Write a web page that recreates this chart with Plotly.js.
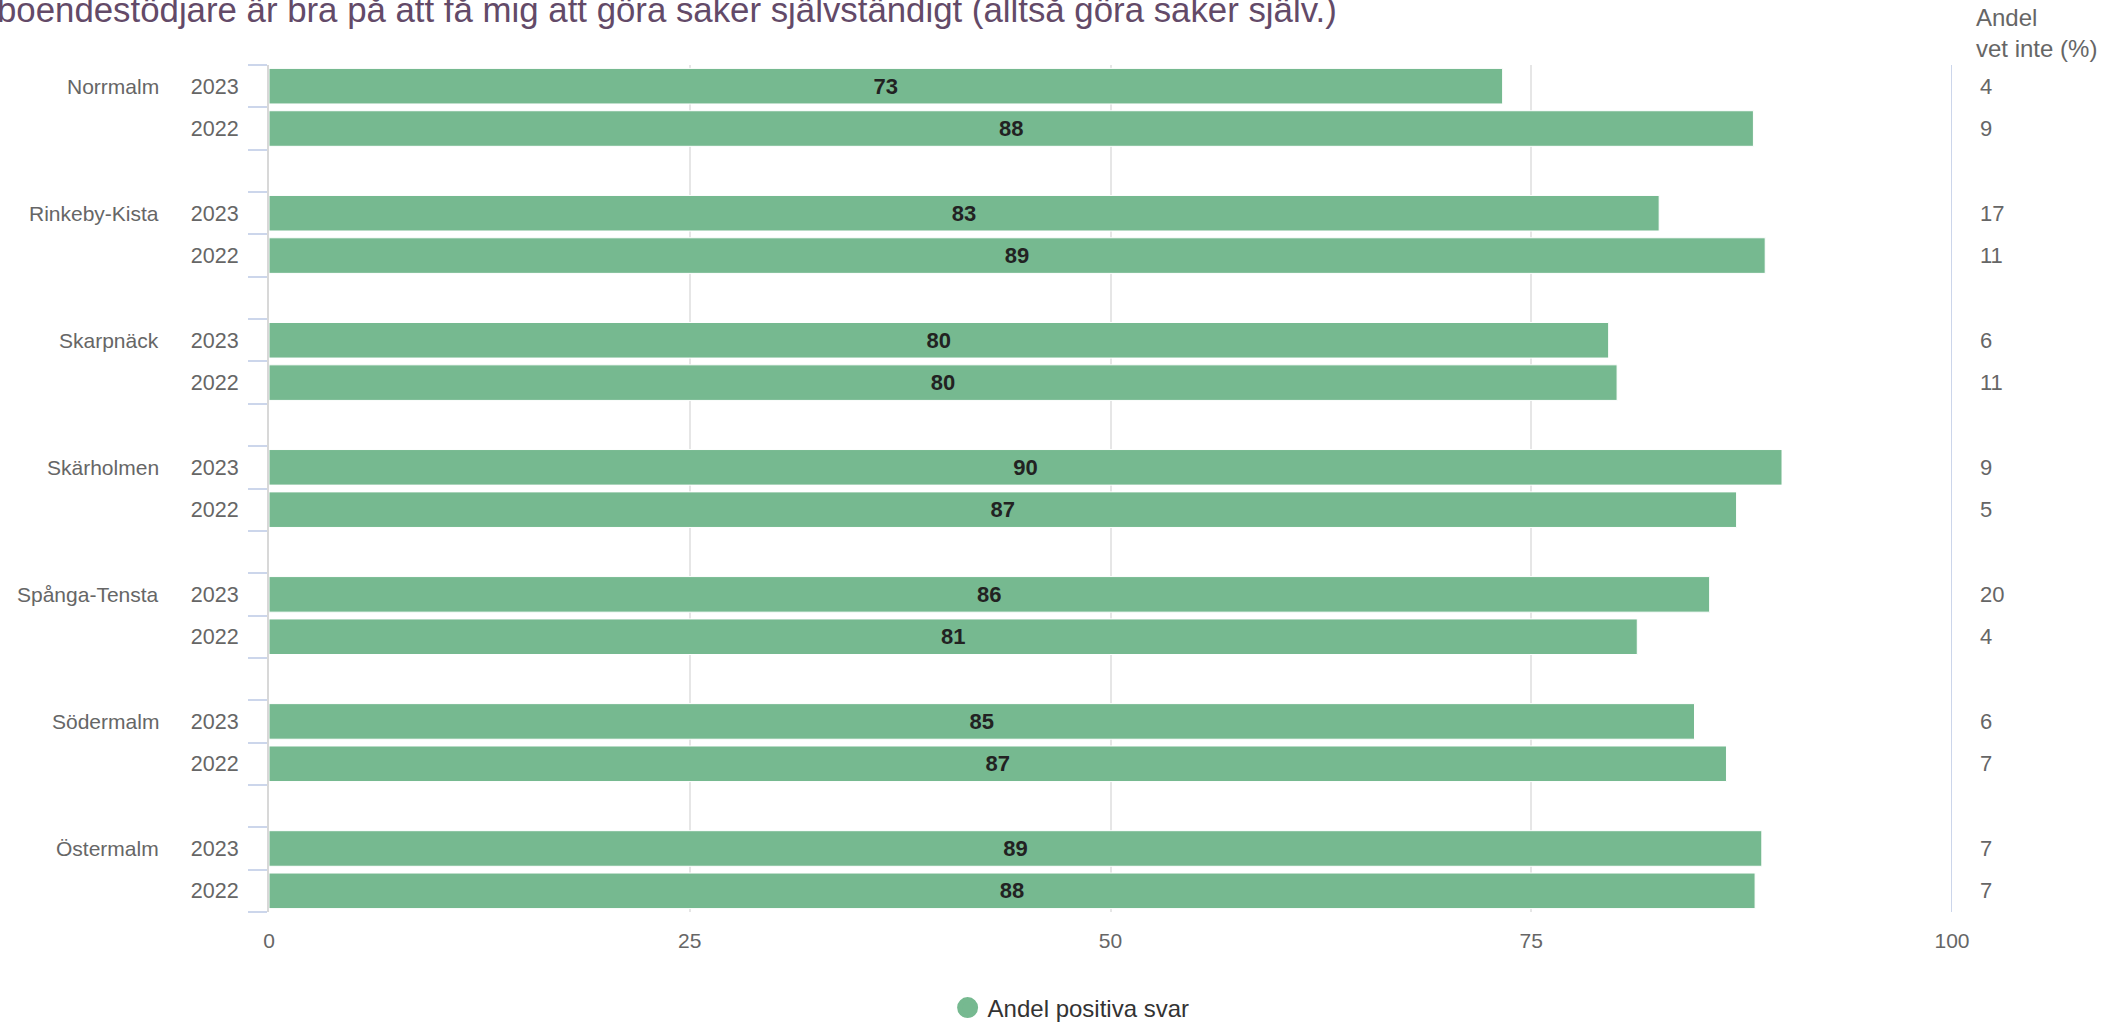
<!DOCTYPE html>
<html>
<head>
<meta charset="utf-8">
<script src="https://cdn.plot.ly/plotly-3.0.1.min.js"></script>
<style>html,body{margin:0;padding:0;background:#fff;}#chart{width:2121px;height:1023px;}</style>
</head>
<body>
<div id="chart"></div>
<script>
// ---- data ----
const districts = ['Norrmalm','Rinkeby-Kista','Skarpnäck','Skärholmen','Spånga-Tensta','Södermalm','Östermalm'];
const years = ['2023','2022'];
const positive2023 = [73.3, 82.6, 79.6, 89.9, 85.6, 84.7, 88.7];
const positive2022 = [88.2, 88.9, 80.1, 87.2, 81.3, 86.6, 88.3];
const vetInte2023 = [4, 17, 6, 9, 20, 6, 7];
const vetInte2022 = [9, 11, 11, 5, 4, 7, 7];
const xTicks = [0, 25, 50, 75, 100];
const seriesName = 'Andel positiva svar';
const sideHeader = 'Andel<br>vet inte (%)';
const titleText = 'boendestödjare är bra på att få mig att göra saker självständigt (alltså göra saker själv.)';

// ---- build rows: each district -> 2023 row, 2022 row, blank row ----
const rowY = [], rowX = [], rowYear = [], rowVet = [];
districts.forEach((d, g) => {
  const vals = [positive2023[g], positive2022[g]];
  const vets = [vetInte2023[g], vetInte2022[g]];
  years.forEach((yr, k) => {
    rowY.push(3 * g + k);
    rowX.push(vals[k]);
    rowYear.push(yr);
    rowVet.push(vets[k]);
  });
});
const nRows = districts.length * 3 - 1;

const font = 'Liberation Sans, Arial, Helvetica, sans-serif';
const green = '#76b990';

const traces = [
  {
    type: 'bar', orientation: 'h',
    x: rowX, y: rowY, width: 0.84,
    marker: {color: green, line: {color: '#ffffff', width: 1}},
    texttemplate: '%{x:.0f}', textposition: 'inside', insidetextanchor: 'middle',
    textfont: {family: font, size: 22, color: '#222222', weight: 'bold'},
    constraintext: 'none',
    showlegend: false, hoverinfo: 'x+y', name: seriesName
  },
  {
    type: 'scatter', mode: 'markers', x: [null], y: [null],
    name: seriesName,
    marker: {symbol: 'circle', size: 16, color: green, line: {color: green, width: 5}},
    showlegend: true, hoverinfo: 'skip'
  }
];

const L = 269, R = 169, T = 65, B = 111;
const plotW = 2121 - L - R, plotH = 1023 - T - B;
const px2x = p => (p - L) / plotW;
const py2y = p => (1023 - B - p) / plotH;

const annotations = [];
// title (cut off at the left/top like the reference)
annotations.push({
  xref: 'paper', yref: 'paper', x: px2x(-5), y: py2y(9), xanchor: 'left', yanchor: 'middle',
  text: titleText, showarrow: false,
  font: {family: font, size: 34.8, color: '#634a68'}
});
// district names
districts.forEach((d, g) => {
  annotations.push({
    xref: 'paper', yref: 'y', x: px2x(161), y: 3 * g, xanchor: 'right', yanchor: 'middle',
    text: d, showarrow: false, font: {family: font, size: 21, color: '#666666'}
  });
});
// "vet inte" values
rowY.forEach((y, i) => {
  annotations.push({
    xref: 'paper', yref: 'y', x: px2x(1978), y: y, xanchor: 'left', yanchor: 'middle',
    text: String(rowVet[i]), showarrow: false, font: {family: font, size: 22, color: '#666666'}
  });
});
annotations.push({
  xref: 'paper', yref: 'paper', x: px2x(1974), y: py2y(33), xanchor: 'left', yanchor: 'middle', align: 'left',
  text: sideHeader, showarrow: false, font: {family: font, size: 24, color: '#666666'}
});

const layout = {
  width: 2121, height: 1023,
  margin: {l: L, r: R, t: T, b: B, pad: 0},
  paper_bgcolor: '#ffffff', plot_bgcolor: '#ffffff',
  font: {family: font, color: '#666666'},
  bargap: 0,
  xaxis: {
    range: [0, 100], tickvals: xTicks, ticktext: xTicks.map(String),
    showgrid: true, gridcolor: '#e6e6e6', gridwidth: 2,
    zeroline: false, showline: false, ticks: '',
    tickfont: {family: font, size: 21, color: '#666666'},
    ticklabelstandoff: 14, fixedrange: true
  },
  yaxis: {
    range: [nRows - 0.5, -0.5],
    tickmode: 'array', tickvals: rowY, ticktext: rowYear,
    ticks: '', showgrid: false, zeroline: false,
    showline: true, linecolor: '#d8d8d8', linewidth: 2,
    tickfont: {family: font, size: 21.5, color: '#666666'},
    ticklabelstandoff: 24,
    minor: {tickmode: 'linear', tick0: -0.5, dtick: 1, ticks: 'outside', ticklen: 19, tickwidth: 2, tickcolor: '#ccd6eb', showgrid: false},
    fixedrange: true
  },
  shapes: [{
    type: 'line', xref: 'x', yref: 'paper', x0: 100, x1: 100, y0: 0, y1: 1,
    line: {color: '#ccd6eb', width: 2}, layer: 'above'
  }],
  annotations: annotations,
  legend: {
    orientation: 'h', xref: 'container', yref: 'container',
    x: 0.505, xanchor: 'center', y: 1 - 1008 / 1023, yanchor: 'middle',
    font: {family: font, size: 24, color: '#333333'},
    bgcolor: 'rgba(0,0,0,0)'
  },
  showlegend: true
};

Plotly.newPlot('chart', traces, layout, {displayModeBar: false, staticPlot: true});
</script>
</body>
</html>
